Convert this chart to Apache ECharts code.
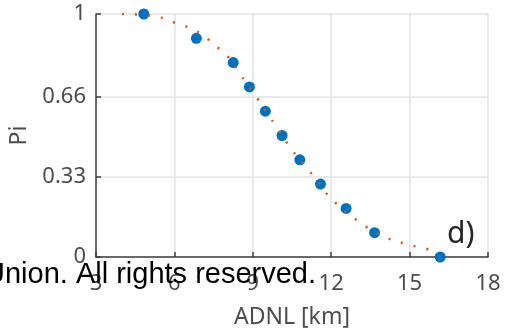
<!DOCTYPE html>
<html>
<head>
<meta charset="utf-8">
<script src="https://cdn.jsdelivr.net/npm/echarts@6/dist/echarts.min.js"></script>
<style>
  html, body { margin: 0; padding: 0; background: #fff; }
  #chart { width: 505px; height: 336px; }
</style>
</head>
<body>
<div id="chart"></div>
<script>
// measured points (ADNL vs Pi)
var pointX = [4.83, 6.84, 8.25, 8.87, 9.48, 10.12, 10.80, 11.59, 12.57, 13.66, 16.17];
var pointY = [1.0, 0.9, 0.8, 0.7, 0.6, 0.5, 0.4, 0.3, 0.2, 0.1, 0.0];

// fitted curve
var curveX = [4.0, 5.0, 6.0, 7.0, 7.5, 8.0, 8.5, 9.0, 9.5, 10.0, 10.5, 11.0, 11.5, 12.0, 13.0, 14.0, 15.0, 15.9];
var curveY = [1.0, 0.995, 0.965, 0.92, 0.875, 0.83, 0.755, 0.68, 0.6, 0.52, 0.44, 0.375, 0.31, 0.24, 0.15, 0.085, 0.05, 0.028];

var yTicks = [0, 0.33, 0.66, 1];
var xMin = 3, xMax = 18, xStep = 3;

var axisCol = '#404040';
var labelFont = 'Noto Sans';

var chart = echarts.init(document.getElementById('chart'));

chart.setOption({
  animation: false,
  grid: { left: 94, right: 17, top: 14, bottom: 79 },
  xAxis: {
    type: 'value',
    min: xMin, max: xMax, interval: xStep,
    name: 'ADNL [km]',
    nameLocation: 'middle',
    nameGap: 49,
    nameTextStyle: { fontFamily: labelFont, fontSize: 23, color: '#4d4d4d' },
    axisLine: { onZero: false, lineStyle: { color: axisCol, width: 1.5 } },
    axisTick: { inside: true, length: 5, lineStyle: { color: axisCol, width: 1.5 } },
    axisLabel: { margin: 16, fontFamily: labelFont, fontSize: 22, color: '#4d4d4d' },
    splitLine: { show: true, lineStyle: { color: '#e3e3e3', width: 1.5 } }
  },
  yAxis: {
    type: 'value',
    min: 0, max: 1,
    name: 'Pi',
    nameLocation: 'middle',
    nameGap: 65,
    nameTextStyle: { fontFamily: labelFont, fontSize: 23, color: '#4d4d4d' },
    axisLine: { show: true, lineStyle: { color: axisCol, width: 1.5 } },
    axisTick: { show: true, inside: true, length: 5, customValues: yTicks, lineStyle: { color: axisCol, width: 1.5 } },
    axisLabel: { margin: 10, customValues: yTicks, fontFamily: labelFont, fontSize: 22, color: '#4d4d4d',
      formatter: function (v) { return String(v); } },
    splitLine: { show: true, lineStyle: { color: '#e3e3e3', width: 1.5 } }
  },
  series: [
    {
      type: 'line',
      data: curveX.map(function (x, i) { return [x, curveY[i]]; }),
      smooth: true,
      symbol: 'none',
      lineStyle: { color: '#D95319', width: 2.5, type: [2, 11] },
      z: 3
    },
    {
      type: 'scatter',
      data: pointX.map(function (x, i) { return [x, pointY[i]]; }),
      symbolSize: 11,
      itemStyle: { color: '#0072BD', opacity: 1 },
      z: 2
    }
  ],
  graphic: [
    {
      type: 'text', left: 447, top: 219, z: 10,
      style: { text: 'd)', fontFamily: labelFont, fontSize: 30, fill: '#262626' }
    },
    {
      type: 'text', left: -16, top: 260, z: 20,
      style: { text: 'Union. All rights reserved.', fontFamily: 'Liberation Sans', fontSize: 29, fill: '#000' }
    }
  ]
});
</script>
</body>
</html>
